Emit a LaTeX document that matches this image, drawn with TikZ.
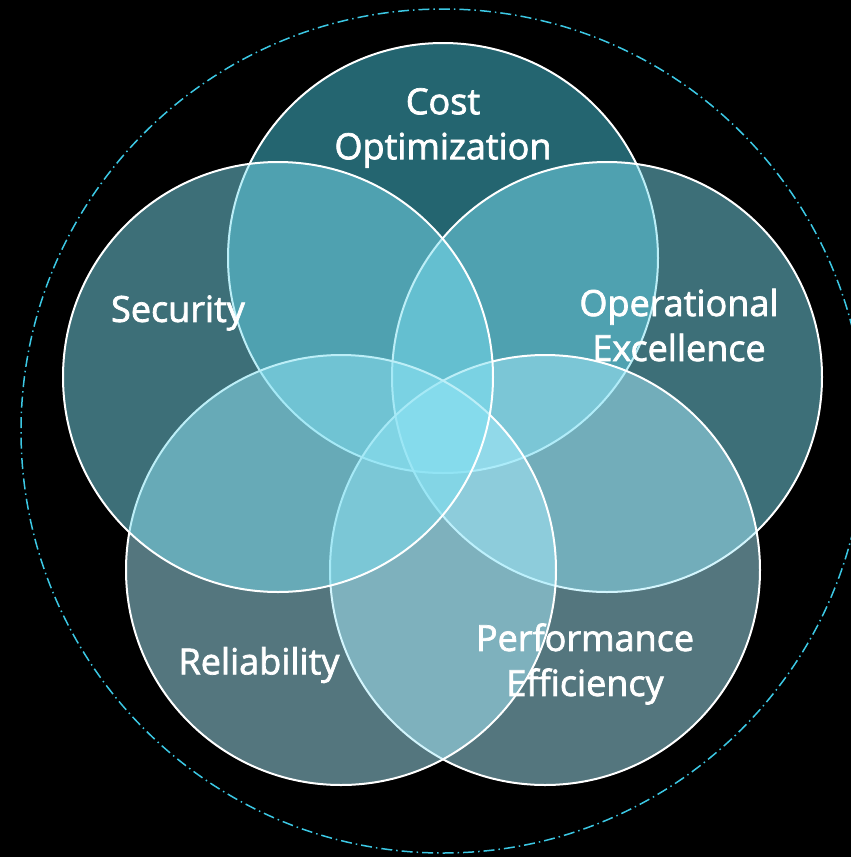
\documentclass[tikz,border=0pt]{standalone}
\usepackage{fontspec}
\newfontfamily\lblfont{Open Sans}[FakeBold=2]
\definecolor{costc}{RGB}{72,202,224}
\definecolor{secc}{RGB}{122,222,240}
\definecolor{relc}{RGB}{168,236,252}
\definecolor{ringc}{RGB}{60,200,228}
\begin{document}
\begin{tikzpicture}[x=1pt,y=-1pt,
  pillar/.style={circle, draw=white, line width=2pt, fill opacity=0.5, minimum size=430pt, inner sep=0pt},
  lbl/.style={text=white, align=center, font=\lblfont\fontsize{36}{45}\selectfont}]
\fill[black] (0,0) rectangle (851,857);
\useasboundingbox (0,0) rectangle (851,857);
\begin{scope}
\clip (0,0) rectangle (851,857);
\node[circle, draw=ringc, line width=1.5pt, dash pattern=on 11pt off 4pt on 1.5pt off 4pt, minimum size=844pt, inner sep=0pt] (ring) at (443,431) {};
\end{scope}
\node[pillar, fill=costc] (cost) at (443,258) {};
\node[pillar, fill=secc] (oper) at (607,377) {};
\node[pillar, fill=relc] (perf) at (545,570) {};
\node[pillar, fill=relc] (rel) at (341,570) {};
\node[pillar, fill=secc] (sec) at (278,377) {};
\node[lbl] (costl) at (443,128) {Cost\\Optimization};
\node[lbl] (secl) at (178,313) {Security};
\node[lbl] (operl) at (679,325) {Operational\\Excellence};
\node[lbl] (rell) at (259,665) {Reliability};
\node[lbl] (perfl) at (585,664) {Performance\\Efficiency};
\end{tikzpicture}
\end{document}
